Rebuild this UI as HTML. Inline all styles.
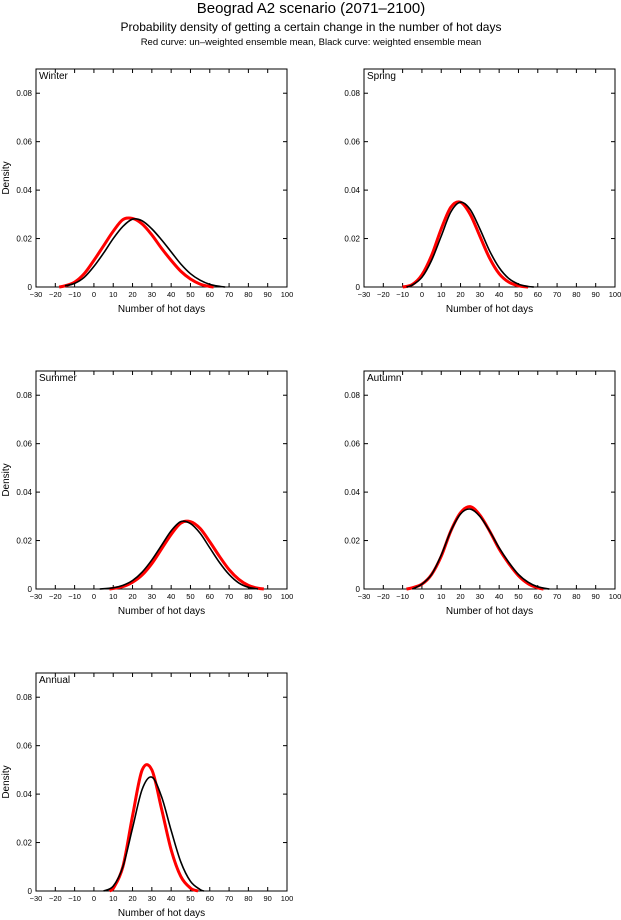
<!DOCTYPE html>
<html><head><meta charset="utf-8"><style>
body{margin:0;background:#fff;width:621px;height:920px;overflow:hidden;font-family:"Liberation Sans",sans-serif}
svg{display:block}
</style></head><body>
<svg id="chart" width="621" height="920" font-family="Liberation Sans, sans-serif">
<text x="311" y="13" font-size="15" text-anchor="middle">Beograd A2 scenario (2071–2100)</text>
<text x="311" y="31" font-size="12" text-anchor="middle">Probability density of getting a certain change in the number of hot days</text>
<text x="311" y="45" font-size="9.5" text-anchor="middle">Red curve: un–weighted ensemble mean, Black curve: weighted ensemble mean</text>
</svg>
<script>
const xTicks=[-30,-20,-10,0,10,20,30,40,50,60,70,80,90,100];
const yTicks=[0,0.02,0.04,0.06,0.08];
const yTickLabels=["0","0.02","0.04","0.06","0.08"];
const panelNames=["Winter","Spring","Summer","Autumn","Annual"];
const winterBlackX=[-15,-10,-5,0,5,10,15,20,25,30,35,40,45,50,55,60,65,68];
const winterBlackY=[0.0005,0.0015,0.004,0.0085,0.014,0.020,0.025,0.028,0.0273,0.024,0.0195,0.0145,0.0095,0.0055,0.0028,0.0011,0.0003,0];
const winterRedX=[-18,-15,-10,-5,0,5,10,15,20,25,30,35,40,45,50,55,60,62];
const winterRedY=[0,0.0005,0.002,0.0055,0.011,0.017,0.023,0.0278,0.0283,0.026,0.0215,0.016,0.011,0.0065,0.0033,0.0012,0.0002,0];
const springBlackX=[-8,-5,0,5,10,15,20,25,30,35,40,45,50,55,58];
const springBlackY=[0,0.0008,0.004,0.011,0.021,0.031,0.035,0.032,0.024,0.015,0.008,0.0035,0.0012,0.0002,0];
const springRedX=[-10,-5,0,5,10,15,20,25,30,35,40,45,50,55];
const springRedY=[0,0.001,0.005,0.013,0.024,0.033,0.035,0.030,0.021,0.012,0.0055,0.002,0.0005,0];
const summerBlackX=[3,10,15,20,25,30,35,40,45,50,55,60,65,70,75,80,85];
const summerBlackY=[0,0.0005,0.0015,0.0035,0.007,0.012,0.018,0.024,0.0278,0.027,0.023,0.017,0.011,0.006,0.0025,0.0007,0];
const summerRedX=[8,15,20,25,30,35,40,45,50,55,60,65,70,75,80,85,88];
const summerRedY=[0,0.001,0.0028,0.0058,0.0105,0.0165,0.0225,0.0272,0.0278,0.025,0.0195,0.0135,0.008,0.004,0.0015,0.0003,0];
const autumnBlackX=[-5,0,5,10,15,20,25,30,35,40,45,50,55,60,66];
const autumnBlackY=[0,0.002,0.006,0.014,0.024,0.031,0.033,0.030,0.024,0.017,0.011,0.006,0.0028,0.0009,0];
const autumnRedX=[-8,-5,0,5,10,15,20,25,30,35,40,45,50,55,60,63];
const autumnRedY=[0,0.0005,0.002,0.006,0.0135,0.024,0.0315,0.034,0.0305,0.024,0.0165,0.0105,0.0055,0.0022,0.0005,0];
const annualBlackX=[5,10,15,20,25,30,35,40,45,50,55,57];
const annualBlackY=[0,0.002,0.01,0.026,0.042,0.047,0.039,0.025,0.012,0.004,0.0006,0];
const annualRedX=[8,10,15,20,25,30,35,40,45,50,54];
const annualRedY=[0,0.001,0.01,0.031,0.050,0.050,0.034,0.017,0.006,0.0012,0];

const series=[
 [winterRedX,winterRedY,winterBlackX,winterBlackY],
 [springRedX,springRedY,springBlackX,springBlackY],
 [summerRedX,summerRedY,summerBlackX,summerBlackY],
 [autumnRedX,autumnRedY,autumnBlackX,autumnBlackY],
 [annualRedX,annualRedY,annualBlackX,annualBlackY]];
const lefts=[36,364,36,364,36], bottoms=[287,287,589,589,891];
const W=251,H=218,XMIN=-30,XMAX=100,YMAX=0.09;
const NS="http://www.w3.org/2000/svg";
const svg=document.getElementById('chart');
function mk(tag,attrs,parent){const e=document.createElementNS(NS,tag);for(const k in attrs)e.setAttribute(k,attrs[k]);parent.appendChild(e);return e;}
function pathFrom(pts){
 let d=`M${pts[0][0]},${pts[0][1]}`;
 for(let i=0;i<pts.length-1;i++){
  const p0=pts[Math.max(0,i-1)],p1=pts[i],p2=pts[i+1],p3=pts[Math.min(pts.length-1,i+2)];
  const c1x=p1[0]+(p2[0]-p0[0])/6,c1y=Math.min(p1[1]+(p2[1]-p0[1])/6,Math.max(p1[1],p2[1]));
  const c2x=p2[0]-(p3[0]-p1[0])/6,c2y=Math.min(p2[1]-(p3[1]-p1[1])/6,Math.max(p1[1],p2[1]));
  d+=` C${c1x.toFixed(2)},${c1y.toFixed(2)} ${c2x.toFixed(2)},${c2y.toFixed(2)} ${p2[0].toFixed(2)},${p2[1].toFixed(2)}`;
 }
 return d;
}
panelNames.forEach((name,i)=>{
 const L=lefts[i],B=bottoms[i],T=B-H;
 const sx=v=>L+(v-XMIN)/(XMAX-XMIN)*W;
 const sy=v=>B-v/YMAX*H;
 const g=mk('g',{},svg);
 
 
 const frame=mk('rect',{x:L,y:T,width:W,height:H,fill:'none',stroke:'#000','stroke-width':1},g);
 
 
 xTicks.forEach(t=>{
  const x=sx(t);
  mk('line',{x1:x,x2:x,y1:B,y2:B-4,stroke:'#000'},g);
  mk('line',{x1:x,x2:x,y1:T,y2:T+4,stroke:'#000'},g);
  const tl=mk('text',{x:x,y:B+10,'font-size':7.5,'text-anchor':'middle'},g);
  tl.textContent=String(t).replace('-','−');
  
  
 });
 yTicks.forEach((t,j)=>{
  const y=sy(t);
  mk('line',{x1:L,x2:L+4,y1:y,y2:y,stroke:'#000'},g);
  mk('line',{x1:L+W,x2:L+W-4,y1:y,y2:y,stroke:'#000'},g);
  const tl=mk('text',{x:L-4,y:y+3,'font-size':8,'text-anchor':'end'},g);
  tl.textContent=yTickLabels[j];
  
  
 });
 const xl=mk('text',{x:L+W/2,y:B+25,'font-size':10,'text-anchor':'middle'},g);
 xl.textContent='Number of hot days';
 
 
 if(i%2===0){
  const yl=mk('text',{x:0,y:0,'font-size':10,'text-anchor':'middle',transform:`translate(${L-27},${T+H/2}) rotate(-90)`},g);
  yl.textContent='Density';
  
  
 }
 const pl=mk('text',{x:L+3,y:T+10,'font-size':10},g);
 pl.textContent=name;
 
 
 const [rx,ry,bx,by]=series[i];
 const red=mk('path',{d:pathFrom(rx.map((v,k)=>[sx(v),sy(ry[k])])),fill:'none',stroke:'#f00','stroke-width':3},g);
 
 
 const blk=mk('path',{d:pathFrom(bx.map((v,k)=>[sx(v),sy(by[k])])),fill:'none',stroke:'#000','stroke-width':1.6},g);
 
 
});
</script>
</body></html>
